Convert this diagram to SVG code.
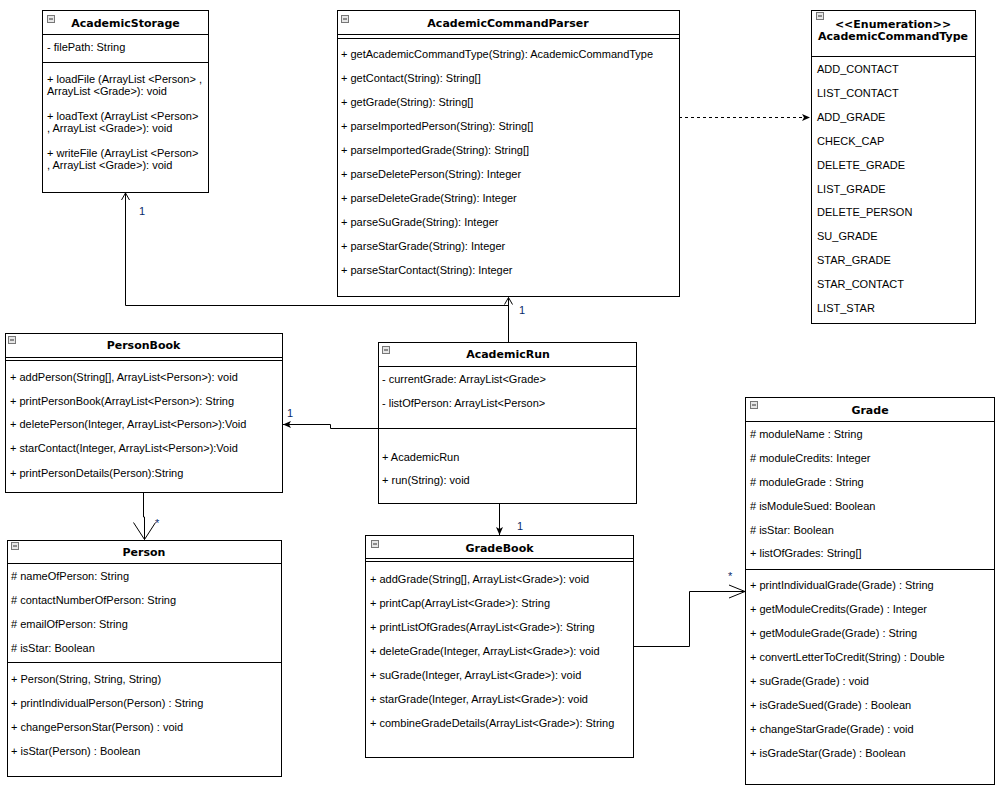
<svg xmlns="http://www.w3.org/2000/svg" width="1006" height="790" viewBox="0 0 1006 790">
<style>
.bg{fill:#fff}
.box{fill:#fff;stroke:#000;stroke-width:1}
.ln{stroke:#000;stroke-width:1;fill:none}
.t{font-family:"Liberation Sans",Arial,sans-serif;font-size:11px;fill:#000}
.h{font-family:"DejaVu Sans",Verdana,sans-serif;font-weight:bold;font-size:11px;fill:#000;text-anchor:middle}
.ic{fill:#e6e6e6;stroke:#777;stroke-width:1}
.icm{stroke:#333;stroke-width:1}
.lbl{font-family:"Liberation Sans",Arial,sans-serif;font-size:11px;fill:#0a2a6a}
.con{stroke:#000;stroke-width:1;fill:none}
.dash{stroke:#000;stroke-width:1;fill:none;stroke-dasharray:3,3}
</style>
<defs>
<marker id="open" markerUnits="userSpaceOnUse" markerWidth="10" markerHeight="10" viewBox="0 0 10 10" refX="8" refY="5" orient="auto">
<path d="M1,1 L8,5 L1,9" fill="none" stroke="#000" stroke-width="1"/>
</marker>
<marker id="fill" markerUnits="userSpaceOnUse" markerWidth="10" markerHeight="10" viewBox="0 0 10 10" refX="8" refY="5" orient="auto">
<path d="M0,1.5 L8,5 L0,8.5 L2,5 Z" fill="#000"/>
</marker>
<marker id="vwide" markerUnits="userSpaceOnUse" markerWidth="20" markerHeight="24" viewBox="0 0 20 24" refX="18" refY="12" orient="auto">
<path d="M1,1 L18,12 L1,23" fill="none" stroke="#000" stroke-width="1"/>
</marker>
<marker id="vnarrow" markerUnits="userSpaceOnUse" markerWidth="20" markerHeight="16" viewBox="0 0 20 16" refX="18" refY="8" orient="auto">
<path d="M2,1.5 L18,8 L2,14.5" fill="none" stroke="#000" stroke-width="1"/>
</marker>
</defs>
<rect class="bg" x="0" y="0" width="1006" height="790"/>

<g id="connectors">
<path class="con" d="M508.5,342 V297.5" marker-end="url(#open)"/>
<path class="con" d="M508.5,305.5 H125.5 V193" marker-end="url(#open)"/>
<path class="con" d="M378,428.5 H330.5 V424.5 H283" marker-end="url(#fill)"/>
<path class="con" d="M143.5,493 V517 H144.5 V539.5" marker-end="url(#vwide)"/>
<path class="con" d="M499.5,503 V535" marker-end="url(#fill)"/>
<path class="con" d="M633,646.5 H689.5 V591.5 H745" marker-end="url(#vnarrow)"/>
<path class="dash" d="M679,117.5 H810" marker-end="url(#fill)"/>
<text class="lbl" x="139" y="215">1</text>
<text class="lbl" x="519" y="314">1</text>
<text class="lbl" x="287" y="417">1</text>
<text class="lbl" x="155" y="527">*</text>
<text class="lbl" x="517" y="530">1</text>
<text class="lbl" x="728" y="580">*</text>
</g>

<g id="AcademicStorage">
<rect class="box" x="42.5" y="10.5" width="166" height="182"/>
<line class="ln" x1="42.5" y1="34.5" x2="208.5" y2="34.5"/>
<line class="ln" x1="42.5" y1="62.5" x2="208.5" y2="62.5"/>
<rect class="ic" x="47.5" y="15.5" width="7" height="7"/><line class="icm" x1="49" y1="19" x2="53" y2="19"/>
<text class="h" x="125.5" y="27">AcademicStorage</text>
<text class="t" x="47" y="51">- filePath: String</text>
<text class="t" x="47" y="83">+ loadFile (ArrayList &lt;Person&gt; ,</text>
<text class="t" x="47" y="95">ArrayList &lt;Grade&gt;): void</text>
<text class="t" x="47" y="120">+ loadText (ArrayList &lt;Person&gt;</text>
<text class="t" x="47" y="132">, ArrayList &lt;Grade&gt;): void</text>
<text class="t" x="47" y="157">+ writeFile (ArrayList &lt;Person&gt;</text>
<text class="t" x="47" y="169">, ArrayList &lt;Grade&gt;): void</text>
</g>

<g id="AcademicCommandParser">
<rect class="box" x="337.5" y="10.5" width="342" height="286"/>
<line class="ln" x1="337.5" y1="34.5" x2="679.5" y2="34.5"/>
<line class="ln" x1="337.5" y1="38.5" x2="679.5" y2="38.5"/>
<rect class="ic" x="341.5" y="15.5" width="7" height="7"/><line class="icm" x1="343" y1="19" x2="347" y2="19"/>
<text class="h" x="508" y="27">AcademicCommandParser</text>
<text class="t" x="341" y="58">+ getAcademicCommandType(String): AcademicCommandType</text>
<text class="t" x="341" y="82">+ getContact(String): String[]</text>
<text class="t" x="341" y="106">+ getGrade(String): String[]</text>
<text class="t" x="341" y="130">+ parseImportedPerson(String): String[]</text>
<text class="t" x="341" y="154">+ parseImportedGrade(String): String[]</text>
<text class="t" x="341" y="178">+ parseDeletePerson(String): Integer</text>
<text class="t" x="341" y="202">+ parseDeleteGrade(String): Integer</text>
<text class="t" x="341" y="226">+ parseSuGrade(String): Integer</text>
<text class="t" x="341" y="250">+ parseStarGrade(String): Integer</text>
<text class="t" x="341" y="274">+ parseStarContact(String): Integer</text>
</g>

<g id="AcademicCommandType">
<rect class="box" x="811.5" y="10.5" width="164" height="313"/>
<line class="ln" x1="811.5" y1="56.5" x2="975.5" y2="56.5"/>
<rect class="ic" x="816.5" y="12.5" width="7" height="7"/><line class="icm" x1="818" y1="16" x2="822" y2="16"/>
<text class="h" x="893" y="28">&lt;&lt;Enumeration&gt;&gt;</text>
<text class="h" x="893" y="40">AcademicCommandType</text>
<text class="t" x="817" y="73">ADD_CONTACT</text>
<text class="t" x="817" y="97">LIST_CONTACT</text>
<text class="t" x="817" y="121">ADD_GRADE</text>
<text class="t" x="817" y="145">CHECK_CAP</text>
<text class="t" x="817" y="169">DELETE_GRADE</text>
<text class="t" x="817" y="193">LIST_GRADE</text>
<text class="t" x="817" y="216">DELETE_PERSON</text>
<text class="t" x="817" y="240">SU_GRADE</text>
<text class="t" x="817" y="264">STAR_GRADE</text>
<text class="t" x="817" y="288">STAR_CONTACT</text>
<text class="t" x="817" y="312">LIST_STAR</text>
</g>

<g id="PersonBook">
<rect class="box" x="5.5" y="333.5" width="277" height="159"/>
<line class="ln" x1="5.5" y1="357.5" x2="282.5" y2="357.5"/>
<line class="ln" x1="5.5" y1="360.5" x2="282.5" y2="360.5"/>
<rect class="ic" x="8.5" y="336.5" width="7" height="7"/><line class="icm" x1="10" y1="340" x2="14" y2="340"/>
<text class="h" x="143.5" y="349">PersonBook</text>
<text class="t" x="10" y="381">+ addPerson(String[], ArrayList&lt;Person&gt;): void</text>
<text class="t" x="10" y="405">+ printPersonBook(ArrayList&lt;Person&gt;): String</text>
<text class="t" x="10" y="428">+ deletePerson(Integer, ArrayList&lt;Person&gt;):Void</text>
<text class="t" x="10" y="452">+ starContact(Integer, ArrayList&lt;Person&gt;):Void</text>
<text class="t" x="10" y="477">+ printPersonDetails(Person):String</text>
</g>

<g id="AcademicRun">
<rect class="box" x="378.5" y="342.5" width="258" height="161"/>
<line class="ln" x1="378.5" y1="366.5" x2="636.5" y2="366.5"/>
<line class="ln" x1="378.5" y1="428.5" x2="636.5" y2="428.5"/>
<rect class="ic" x="382.5" y="346.5" width="7" height="7"/><line class="icm" x1="384" y1="350" x2="388" y2="350"/>
<text class="h" x="508" y="358">AcademicRun</text>
<text class="t" x="382" y="383">- currentGrade: ArrayList&lt;Grade&gt;</text>
<text class="t" x="382" y="407">- listOfPerson: ArrayList&lt;Person&gt;</text>
<text class="t" x="382" y="461">+ AcademicRun</text>
<text class="t" x="382" y="484">+ run(String): void</text>
</g>

<g id="Person">
<rect class="box" x="7.5" y="540.5" width="274" height="236"/>
<line class="ln" x1="7.5" y1="563.5" x2="281.5" y2="563.5"/>
<line class="ln" x1="7.5" y1="662.5" x2="281.5" y2="662.5"/>
<rect class="ic" x="11.5" y="542.5" width="7" height="7"/><line class="icm" x1="13" y1="546" x2="17" y2="546"/>
<text class="h" x="144" y="556">Person</text>
<text class="t" x="11" y="580"># nameOfPerson: String</text>
<text class="t" x="11" y="604"># contactNumberOfPerson: String</text>
<text class="t" x="11" y="628"># emailOfPerson: String</text>
<text class="t" x="11" y="652"># isStar: Boolean</text>
<text class="t" x="11" y="683">+ Person(String, String, String)</text>
<text class="t" x="11" y="707">+ printIndividualPerson(Person) : String</text>
<text class="t" x="11" y="731">+ changePersonStar(Person) : void</text>
<text class="t" x="11" y="755">+ isStar(Person) : Boolean</text>
</g>

<g id="GradeBook">
<rect class="box" x="365.5" y="535.5" width="268" height="222"/>
<line class="ln" x1="365.5" y1="558.5" x2="633.5" y2="558.5"/>
<line class="ln" x1="365.5" y1="561.5" x2="633.5" y2="561.5"/>
<rect class="ic" x="371.5" y="540.5" width="7" height="7"/><line class="icm" x1="373" y1="544" x2="377" y2="544"/>
<text class="h" x="499.5" y="552">GradeBook</text>
<text class="t" x="370" y="583">+ addGrade(String[], ArrayList&lt;Grade&gt;): void</text>
<text class="t" x="370" y="607">+ printCap(ArrayList&lt;Grade&gt;): String</text>
<text class="t" x="370" y="631">+ printListOfGrades(ArrayList&lt;Grade&gt;): String</text>
<text class="t" x="370" y="655">+ deleteGrade(Integer, ArrayList&lt;Grade&gt;): void</text>
<text class="t" x="370" y="679">+ suGrade(Integer, ArrayList&lt;Grade&gt;): void</text>
<text class="t" x="370" y="703">+ starGrade(Integer, ArrayList&lt;Grade&gt;): void</text>
<text class="t" x="370" y="727">+ combineGradeDetails(ArrayList&lt;Grade&gt;): String</text>
</g>

<g id="Grade">
<rect class="box" x="745.5" y="397.5" width="249" height="387"/>
<line class="ln" x1="745.5" y1="421.5" x2="994.5" y2="421.5"/>
<line class="ln" x1="745.5" y1="569.5" x2="994.5" y2="569.5"/>
<rect class="ic" x="750.5" y="401.5" width="7" height="7"/><line class="icm" x1="752" y1="405" x2="756" y2="405"/>
<text class="h" x="870" y="414">Grade</text>
<text class="t" x="750" y="438"># moduleName : String</text>
<text class="t" x="750" y="462"># moduleCredits: Integer</text>
<text class="t" x="750" y="486"># moduleGrade : String</text>
<text class="t" x="750" y="510"># isModuleSued: Boolean</text>
<text class="t" x="750" y="534"># isStar: Boolean</text>
<text class="t" x="750" y="557">+ listOfGrades: String[]</text>
<text class="t" x="750" y="589">+ printIndividualGrade(Grade) : String</text>
<text class="t" x="750" y="613">+ getModuleCredits(Grade) : Integer</text>
<text class="t" x="750" y="637">+ getModuleGrade(Grade) : String</text>
<text class="t" x="750" y="661">+ convertLetterToCredit(String) : Double</text>
<text class="t" x="750" y="685">+ suGrade(Grade) : void</text>
<text class="t" x="750" y="709">+ isGradeSued(Grade) : Boolean</text>
<text class="t" x="750" y="733">+ changeStarGrade(Grade) : void</text>
<text class="t" x="750" y="757">+ isGradeStar(Grade) : Boolean</text>
</g>
</svg>
